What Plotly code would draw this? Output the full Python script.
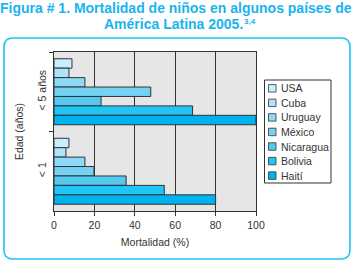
import plotly.graph_objects as go

# ---- data ----
age_groups = ["< 5 años", "< 1"]
countries = ["USA", "Cuba", "Uruguay", "México", "Nicaragua", "Bolivia", "Haití"]
mort_under5 = [8.9, 7.4, 15.3, 47.9, 23.3, 68.6, 100]
mort_under1 = [7.4, 5.9, 15.3, 19.8, 35.7, 54.6, 80]
x_ticks = [0, 20, 40, 60, 80, 100]
colors = ["#c9eefc", "#aee3f9", "#8fdaf6", "#74d3f5", "#53c8f1", "#1fc5f5", "#00b3ee"]

W, H = 354, 263
ML, MR, MT, MB = 54, 98, 52, 52
PW, PH = W - ML - MR, H - MT - MB


def xp(px):
    return (px - ML) / PW


def yp(py):
    return (H - MB - py) / PH


fig = go.Figure()
for i, c in enumerate(countries):
    fig.add_trace(go.Bar(
        x=[mort_under5[i], mort_under1[i]],
        y=age_groups,
        orientation="h",
        name=c,
        marker=dict(color=colors[i], line=dict(color="#333333", width=1)),
        showlegend=False,
    ))

shapes = []
# rounded outer frame
x0, y0, x1, y1, r = 4, 38, 350, 259, 9
path = (f"M {xp(x0+r)},{yp(y0)} L {xp(x1-r)},{yp(y0)} Q {xp(x1)},{yp(y0)} {xp(x1)},{yp(y0+r)} "
        f"L {xp(x1)},{yp(y1-r)} Q {xp(x1)},{yp(y1)} {xp(x1-r)},{yp(y1)} "
        f"L {xp(x0+r)},{yp(y1)} Q {xp(x0)},{yp(y1)} {xp(x0)},{yp(y1-r)} "
        f"L {xp(x0)},{yp(y0+r)} Q {xp(x0)},{yp(y0)} {xp(x0+r)},{yp(y0)} Z")
shapes.append(dict(type="path", path=path, xref="paper", yref="paper",
                   line=dict(color="#1cc3f5", width=1.6), layer="below"))

# manual legend
lx0, ly0, lx1, ly1 = 264.5, 80, 331, 183
shapes.append(dict(type="rect", xref="paper", yref="paper",
                   x0=xp(lx0), x1=xp(lx1), y0=yp(ly1), y1=yp(ly0),
                   line=dict(color="#333333", width=1), fillcolor="white"))
annotations = []
step = 14.55
for i, c in enumerate(countries):
    cy = 88.3 + i * step
    shapes.append(dict(type="rect", xref="paper", yref="paper",
                       x0=xp(268.5), x1=xp(276), y0=yp(cy + 3.75), y1=yp(cy - 3.75),
                       line=dict(color="#333333", width=0.8), fillcolor=colors[i]))
    annotations.append(dict(text=c, x=xp(279), y=yp(cy), xref="paper", yref="paper",
                            xanchor="left", yanchor="middle", showarrow=False,
                            font=dict(size=10.5, color="#333333")))

# title
tfont = dict(family="Liberation Sans, Arial, sans-serif", size=14, color="#1ab4ec")
annotations.append(dict(text="<b>Figura # 1. Mortalidad de niños en algunos países de</b>",
                        x=xp(175.5), y=yp(8.5), xref="paper", yref="paper",
                        xanchor="center", yanchor="middle", showarrow=False, font=tfont))
annotations.append(dict(text="<b>América Latina 2005.</b>",
                        x=xp(173), y=yp(24.5), xref="paper", yref="paper",
                        xanchor="center", yanchor="middle", showarrow=False, font=tfont))
annotations.append(dict(text="<b>3,4</b>",
                        x=xp(241.5), y=yp(21), xref="paper", yref="paper",
                        xanchor="left", yanchor="middle", showarrow=False,
                        font=dict(family="Liberation Sans, Arial, sans-serif", size=8,
                                  color="#1ab4ec")))

fig.update_layout(
    width=W, height=H,
    margin=dict(l=ML, r=MR, t=MT, b=MB, pad=0, autoexpand=False),
    paper_bgcolor="white",
    plot_bgcolor="#e6e6e6",
    barmode="group",
    bargap=0.17,
    bargroupgap=0,
    font=dict(family="Liberation Sans, Arial, sans-serif", size=10.5, color="#333333"),
    shapes=shapes,
    annotations=annotations,
    xaxis=dict(
        range=[0, 100], tickvals=x_ticks, ticks="outside", ticklen=4,
        tickcolor="#333333", showline=True, linecolor="#333333", linewidth=1.2,
        mirror=True, showgrid=True, gridcolor="#333333", gridwidth=1.2,
        zeroline=False, automargin=False,
        title=dict(text="Mortalidad (%)", standoff=8, font=dict(size=10.5)),
        tickfont=dict(size=10.5),
    ),
    yaxis=dict(
        type="category", categoryorder="array", categoryarray=age_groups,
        autorange="reversed", tickson="boundaries", ticks="outside", ticklen=4,
        tickcolor="#333333", showline=True, linecolor="#333333", linewidth=1.2,
        mirror=True, showgrid=False, tickangle=-90, automargin=False,
        ticklabelstandoff=3,
        title=dict(text="Edad (años)", standoff=10, font=dict(size=10.5)),
        tickfont=dict(size=10.5),
    ),
)

fig.write_html("out.html",
               config={"displayModeBar": False},
               post_script="document.body.style.margin='0';document.body.style.overflow='hidden';")
